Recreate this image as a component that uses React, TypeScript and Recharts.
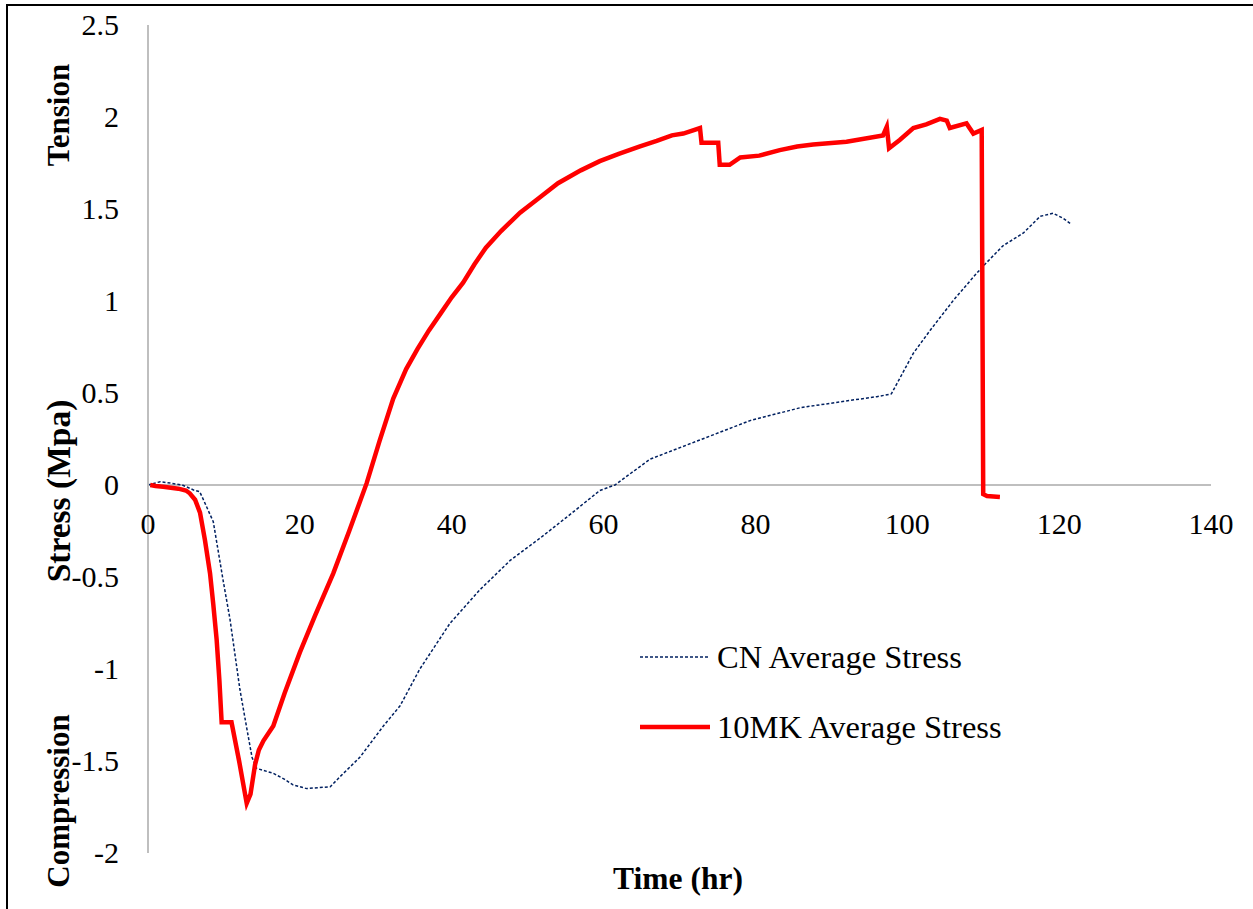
import { LineChart, Line, XAxis, YAxis, ReferenceLine } from 'recharts'

// Time (hr) / stress (MPa).
const cnTime = [
  0, 1.6, 3, 4.5, 6.0, 6.8, 7.3, 8.6, 9.9, 10.8, 12.1, 13.0, 13.7, 14.3, 16.5, 18, 19.1, 20.9,
  24.0, 25.3, 27.9, 31.0, 33.2, 35.8, 39.8, 43.7, 47.7, 51.6, 55.6, 59.5, 61.5, 66.1, 72.7,
  79.3, 85.9, 92.5, 96, 97.9, 100.8, 103.0, 106.1, 108.7, 110.0, 112.6, 115.3, 117.5, 119.2,
  120.5, 121.5,
]
const cnStress = [
  0, 0.018, 0.01, 0, -0.027, -0.036, -0.08, -0.2, -0.52, -0.73, -1.11, -1.32, -1.48, -1.54,
  -1.567, -1.6, -1.63, -1.65, -1.64, -1.585, -1.48, -1.31, -1.2, -1.0, -0.75, -0.57, -0.41,
  -0.29, -0.16, -0.03, 0, 0.14, 0.245, 0.35, 0.42, 0.46, 0.48, 0.495, 0.716, 0.84, 1.005, 1.13,
  1.19, 1.3, 1.37, 1.46, 1.477, 1.45, 1.42,
]

const mkTime = [
  0.3, 1, 2, 3, 4, 5, 5.5, 6.2, 6.85, 7.5, 8.17, 8.6, 9.04, 9.4, 9.7, 11.0, 12.0, 13.0, 13.5,
  14.1, 14.6, 15.2, 16.5, 18.0, 20.0, 22.0, 24.4, 26.5, 28.8, 30.5, 32.3, 34, 35.5, 37, 38.5,
  40, 41.5, 43, 44.5, 46.5, 49, 51.5, 54, 57, 59.5, 62, 64.8, 67, 69.0, 70.5, 72.7, 72.9, 75.1,
  75.3, 76.6, 78.0, 80.5, 83.2, 85.5, 87.6, 92.0, 96.8, 97.3, 97.6, 99.0, 100.8, 102.5, 104.3,
  105.2, 105.6, 107.8, 108.7, 109.8, 110.0, 110.5, 112.2,
]
const mkStress = [
  0, -0.005, -0.01, -0.015, -0.02, -0.03, -0.045, -0.08, -0.15, -0.3, -0.48, -0.65, -0.84,
  -1.06, -1.29, -1.29, -1.5, -1.73, -1.68, -1.52, -1.44, -1.39, -1.31, -1.13, -0.91, -0.71,
  -0.48, -0.25, 0.01, 0.24, 0.47, 0.63, 0.74, 0.84, 0.93, 1.02, 1.1, 1.2, 1.29, 1.38, 1.48,
  1.56, 1.64, 1.71, 1.76, 1.8, 1.84, 1.87, 1.9, 1.91, 1.94, 1.86, 1.86, 1.74, 1.74, 1.78, 1.79,
  1.82, 1.84, 1.85, 1.866, 1.9, 1.947, 1.83, 1.875, 1.94, 1.96, 1.99, 1.98, 1.94, 1.965, 1.91,
  1.93, -0.05, -0.06, -0.065,
]

const xTicks = [0, 20, 40, 60, 80, 100, 120, 140]
const yTicks = [-2, -1.5, -1, -0.5, 0, 0.5, 1, 1.5, 2, 2.5]

const cnData = cnTime.map((t, i) => ({ t, v: cnStress[i] }))
const mkData = mkTime.map((t, i) => ({ t, v: mkStress[i] }))

const W = 1253
const H = 909
const X_AXIS_H = 30
const MARGIN = { top: 25, right: 42, bottom: 56 - X_AXIS_H, left: 68 }
const Y_AXIS_W = 80
const PLOT_TOP = MARGIN.top
const PLOT_H = H - MARGIN.top - 56
// axis crosses at zero, like Excel does it
const ZERO_Y = PLOT_TOP + (PLOT_H * 2.5) / 4.5

const SERIF = "'Times New Roman', 'Liberation Serif', serif"
const GRID = '#BFBFBF'
const NAVY = '#002060'
const RED = '#FF0000'

const XTick = (props: any) => (
  <text x={props.x} y={ZERO_Y + 49} textAnchor="middle" style={{ fontSize: 30, fontFamily: SERIF }} fill="#000">
    {props.payload.value}
  </text>
)

const YTick = (props: any) => (
  <text x={props.x} y={props.y} dy={10} textAnchor="end" style={{ fontSize: 30, fontFamily: SERIF }} fill="#000">
    {props.payload.value}
  </text>
)

export default function App() {
  return (
    <div style={{ position: 'absolute', left: 0, top: 0, width: W, height: H, overflow: 'hidden', background: '#fff' }}>
      <div
        style={{
          position: 'absolute',
          left: 6,
          top: 4,
          width: W + 20,
          height: H + 20,
          borderLeft: '2px solid #000',
          borderTop: '2px solid #000',
        }}
      />
      <LineChart width={W} height={H} margin={MARGIN} style={{ position: 'absolute', left: 0, top: 0 }}>
        <XAxis
          type="number"
          dataKey="t"
          domain={[0, 140]}
          ticks={xTicks}
          interval={0}
          axisLine={false}
          tickLine={false}
          height={X_AXIS_H}
          tick={<XTick />}
          allowDataOverflow
        />
        <YAxis
          type="number"
          dataKey="v"
          domain={[-2, 2.5]}
          ticks={yTicks}
          interval={0}
          width={Y_AXIS_W}
          axisLine={{ stroke: GRID, strokeWidth: 2 }}
          tickLine={false}
          tickSize={0}
          tickMargin={29}
          tick={<YTick />}
          allowDataOverflow
        />
        <ReferenceLine y={0} stroke={GRID} strokeWidth={2} />
        <Line
          data={cnData}
          dataKey="v"
          name="CN Average Stress"
          type="linear"
          stroke={NAVY}
          strokeWidth={1.5}
          strokeDasharray="3 2"
          dot={false}
          isAnimationActive={false}
        />
        <Line
          data={mkData}
          dataKey="v"
          name="10MK Average Stress"
          type="linear"
          stroke={RED}
          strokeWidth={4.5}
          dot={false}
          isAnimationActive={false}
        />
      </LineChart>
      <div style={{ position: 'absolute', left: 640, top: 637, fontFamily: SERIF, fontSize: 32.5, color: '#000' }}>
        <div style={{ display: 'flex', alignItems: 'center', height: 40 }}>
          <svg width={77} height={40}>
            <line x1={0} y1={20} x2={70} y2={20} stroke={NAVY} strokeWidth={1.5} strokeDasharray="3 2" />
          </svg>
          <span style={{ lineHeight: '40px' }}>CN Average Stress</span>
        </div>
        <div style={{ display: 'flex', alignItems: 'center', height: 40, marginTop: 30 }}>
          <svg width={77} height={40}>
            <line x1={0} y1={20} x2={70} y2={20} stroke={RED} strokeWidth={4.5} />
          </svg>
          <span style={{ lineHeight: '40px' }}>10MK Average Stress</span>
        </div>
      </div>
      <svg width={W} height={H} style={{ position: 'absolute', left: 0, top: 0, pointerEvents: 'none' }}>
        <g style={{ fontFamily: SERIF, fontWeight: 'bold', fontSize: 31 }} fill="#000">
          <text transform="translate(58,115) rotate(-90)" textAnchor="middle" dominantBaseline="central">
            Tension
          </text>
          <text
            transform="translate(58,491) rotate(-90)"
            textAnchor="middle"
            dominantBaseline="central"
            style={{ fontSize: 33.5 }}
          >
            Stress (Mpa)
          </text>
          <text transform="translate(58,801) rotate(-90)" textAnchor="middle" dominantBaseline="central">
            Compression
          </text>
          <text x={678} y={889} textAnchor="middle" style={{ fontSize: 31.5 }}>
            Time (hr)
          </text>
        </g>
      </svg>
    </div>
  )
}
